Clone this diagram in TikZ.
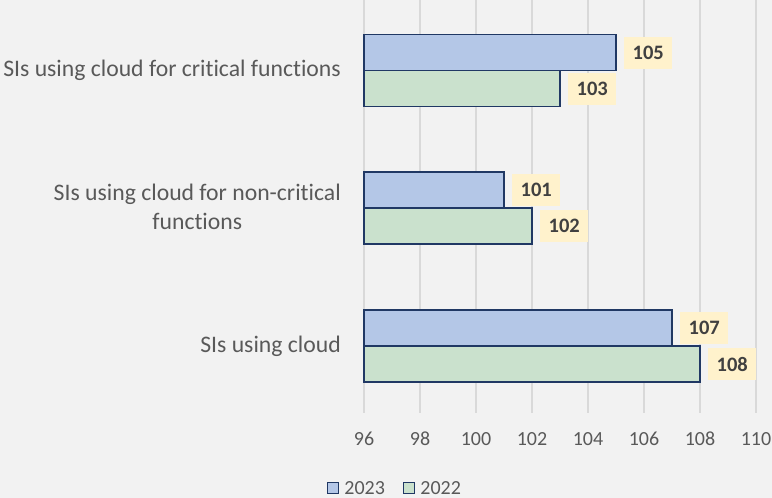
\documentclass[tikz,border=0pt]{standalone}
\usepackage{fontspec}
\setmainfont{Carlito}[Ligatures=NoCommon]
\usetikzlibrary{positioning}

\definecolor{chartbg}{RGB}{242,242,242}
\definecolor{gridgray}{RGB}{217,217,217}
\definecolor{axistext}{RGB}{89,89,89}
\definecolor{valtext}{RGB}{64,64,64}
\definecolor{valfill}{RGB}{255,242,204}
\definecolor{baredge}{RGB}{32,56,100}
\definecolor{fillA}{RGB}{180,199,231}
\definecolor{fillB}{RGB}{202,225,205}

\begin{document}
\begin{tikzpicture}[x=1pt, y=-1pt,
        % one unit on the value axis = 28pt, 96 sits at x=364
        gridline/.style={draw=gridgray, line width=1.5pt},
        bar23/.style={draw=baredge, fill=fillA, line width=1.5pt},
        bar22/.style={draw=baredge, fill=fillB, line width=1.5pt},
        vallabel/.style={fill=valfill, text=valtext, font=\fontsize{20.5}{24}\selectfont\bfseries,
                minimum width=48pt, minimum height=32pt, inner sep=0pt},
        catlabel/.style={text=axistext, font=\fontsize{23.7}{29}\selectfont, align=center,
                anchor=east, inner sep=0pt},
        ticklabel/.style={text=axistext, font=\fontsize{20}{24}\selectfont, inner sep=0pt},
        legendbox/.style={draw=baredge, line width=1.5pt, minimum size=11pt, inner sep=0pt},]

        \fill[chartbg] (0,0) rectangle (772,498);
        \useasboundingbox (0,0) rectangle (772,498);

        % grid and tick labels
        \foreach \v [count=\i from 0] in {96,98,...,110} {
            \draw[gridline] (364+56*\i,0) -- (364+56*\i,413);
            \node[ticklabel] (tick\v) at (364+56*\i,439) {\v};
        }

        % bars: 2023 above, 2022 below
        \draw[bar23] (364,34.5) rectangle (616,70.5);
        \draw[bar22] (364,70.5) rectangle (560,106.5);
        \draw[bar23] (364,172) rectangle (504,208);
        \draw[bar22] (364,208) rectangle (532,244);
        \draw[bar23] (364,310) rectangle (672,346);
        \draw[bar22] (364,346) rectangle (700,382);

        \coordinate (e_crit23) at (616,52.5);
        \coordinate (e_crit22) at (560,88.5);
        \coordinate (e_nonc23) at (504,190);
        \coordinate (e_nonc22) at (532,226);
        \coordinate (e_all23) at (672,328);
        \coordinate (e_all22) at (700,364);

        \node[vallabel, right=8pt of e_crit23] (v_crit23) {105};
        \node[vallabel, right=8pt of e_crit22] (v_crit22) {103};
        \node[vallabel, right=8pt of e_nonc23] (v_nonc23) {101};
        \node[vallabel, right=8pt of e_nonc22] (v_nonc22) {102};
        \node[vallabel, right=8pt of e_all23] (v_all23) {107};
        \node[vallabel, right=8pt of e_all22] (v_all22) {108};

        % category names
        \node[catlabel] (c_crit) at (341,70) {SIs using cloud for critical functions};
        \node[catlabel] (c_nonc) at (341,207) {SIs using cloud for non-critical\\functions};
        \node[catlabel] (c_all) at (341,346) {SIs using cloud};

        % legend
        \node[legendbox, fill=fillA] (l_23) at (333,488) {};
        \node[ticklabel, right=5pt of l_23] (t_23) {2023};
        \node[legendbox, fill=fillB] (l_22) at (409,488) {};
        \node[ticklabel, right=5pt of l_22] (t_22) {2022};

    \end{tikzpicture}
\end{document}
